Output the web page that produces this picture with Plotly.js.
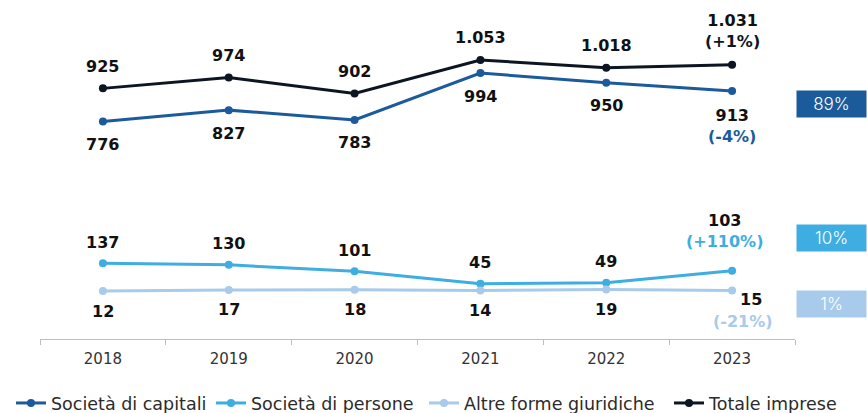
<!DOCTYPE html>
<html>
<head>
<meta charset="utf-8">
<script src="https://cdn.plot.ly/plotly-3.0.1.min.js"></script>
<style>
  html, body { margin: 0; padding: 0; background: #ffffff; }
  #chart { width: 867px; height: 413px; }
</style>
</head>
<body>
<div id="chart"></div>
<script>
// ---- data ----
const years = ['2018', '2019', '2020', '2021', '2022', '2023'];
const capitali = [776, 827, 783, 994, 950, 913];
const persone = [137, 130, 101, 45, 49, 103];
const altre = [12, 17, 18, 14, 19, 15];
const totale = [925, 974, 902, 1053, 1018, 1031];

const seriesNames = ['Società di capitali', 'Società di persone', 'Altre forme giuridiche', 'Totale imprese'];
const variazioni = ['-4%', '+110%', '-21%', '+1%'];
const quoteLabels = ['89%', '10%', '1%'];

// ---- styles ----
const cDark = '#1b5a9b';
const cLight = '#3eaee2';
const cPale = '#a8caeb';
const cTot = '#0c1522';
const labelFont = '"DejaVu Sans", sans-serif';
const thinFont = '"DejaVu Sans", sans-serif';
const boxFont = 'Inter, sans-serif';

function fmt(n) {
  return String(n).replace(/\B(?=(\d{3})+(?!\d))/g, '.');
}

const legendIds = ['legend', 'legend2', 'legend3', 'legend4'];
function trace(k, y, color) {
  return {
    type: 'scatter', mode: 'lines+markers', name: seriesNames[k],
    x: years, y: y,
    legend: legendIds[k],
    line: { color: color, width: 3 },
    marker: { color: color, size: 8 },
    hoverinfo: 'skip'
  };
}

const data = [
  trace(0, capitali, cDark),
  trace(1, persone, cLight),
  trace(2, altre, cPale),
  trace(3, totale, cTot)
];

const annotations = [];
const last = years.length - 1;
function lab(i, v, text, yshift, xshift, color) {
  annotations.push({
    x: i, y: v, xref: 'x', yref: 'y', showarrow: false,
    text: text, yshift: yshift, xshift: xshift || 0,
    font: { family: labelFont, size: 16, color: color || '#111111' }
  });
}
function addLabels(vals, shift, varText, varColor, lastShift, lastX) {
  vals.forEach((v, i) => {
    if (i < last) {
      lab(i, v, '<b>' + fmt(v) + '</b>', shift);
    } else {
      lab(i, v, '<b>' + fmt(v) + '</b><br><b><span style="color:' + varColor + '">(' + varText + ')</span></b>', lastShift, lastX);
    }
  });
}
addLabels(totale, 22, variazioni[3], cTot, 34, 0);
addLabels(capitali, -23, variazioni[0], cDark, -35, 0);
addLabels(persone, 21, variazioni[1], cLight, 40, -8);
altre.forEach((v, i) => {
  if (i < last) {
    lab(i, v, '<b>' + fmt(v) + '</b>', -20);
  } else {
    lab(i, v, '<b>' + fmt(v) + '</b>', -9, 19);
    lab(i, v, '<b>(' + variazioni[2] + ')</b>', -31, 11, cPale);
  }
});

// share boxes
const boxColors = [cDark, cLight, cPale];
const boxY = [0.738, 0.3166, 0.1097];
quoteLabels.forEach((q, i) => {
  annotations.push({
    xref: 'paper', yref: 'paper', x: 1.0477, y: boxY[i],
    xanchor: 'center', yanchor: 'middle', showarrow: false,
    text: q, bgcolor: boxColors[i], width: 65, height: 22, borderpad: 2,
    font: { family: boxFont, size: 17, color: '#ffffff', weight: 300 }
  });
});

function legendAt(px) {
  return {
    orientation: 'h', xref: 'container', yref: 'container',
    x: px / 867, xanchor: 'left', y: 0.024, yanchor: 'middle',
    font: { family: thinFont, size: 17.5, color: '#2b2b2b' },
    itemwidth: 30, bgcolor: 'rgba(0,0,0,0)'
  };
}

const layout = {
  width: 867, height: 413,
  margin: { l: 40, r: 72, t: 20, b: 74 },
  paper_bgcolor: '#ffffff', plot_bgcolor: '#ffffff',
  showlegend: true,
  legend: legendAt(11),
  legend2: legendAt(211),
  legend3: legendAt(424),
  legend4: legendAt(669),
  xaxis: {
    type: 'category', range: [-0.5, 5.5],
    showline: true, linecolor: '#bfbfbf', linewidth: 1,
    ticks: 'outside', tickson: 'boundaries', ticklen: 5, tickcolor: '#bfbfbf',
    ticklabelstandoff: 6,
    showgrid: false, zeroline: false,
    tickfont: { family: thinFont, size: 15, color: '#333333' },
    fixedrange: true
  },
  yaxis: {
    range: [-204, 1233], visible: false, showgrid: false, zeroline: false, fixedrange: true
  },
  annotations: annotations
};

Plotly.newPlot('chart', data, layout, { staticPlot: true, displayModeBar: false });
</script>
</body>
</html>
